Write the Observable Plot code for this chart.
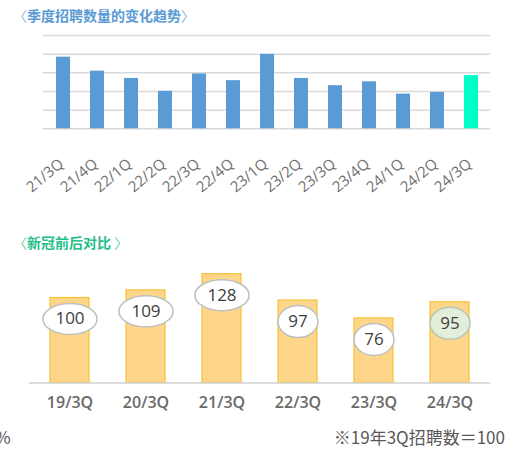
<!DOCTYPE html>
<html>
<head>
<meta charset="utf-8">
<script src="https://cdn.jsdelivr.net/npm/d3@7"></script>
<script src="https://cdn.jsdelivr.net/npm/@observablehq/plot@0.6"></script>
<style>
  body { margin: 0; background: #fff; }
  #root { position: relative; width: 521px; height: 449px; overflow: hidden;
          font-family: "Open Sans", "Noto Sans CJK JP", sans-serif; }
  .title { position: absolute; left: 13px; font-size: 14px; line-height: 20px; font-weight: 700;
           font-family: "Noto Sans CJK SC", sans-serif; white-space: nowrap; }
  .title .br { font-weight: 400; opacity: 0.75; }
  .abs { position: absolute; }
  .note { position: absolute; font-size: 17px; line-height: 20px; color: #595959;
          font-family: "Noto Sans CJK JP", sans-serif; white-space: nowrap; }
</style>
</head>
<body>
<div id="root">
  <div class="title" style="top:5px;color:#5B9BD5"><span class="br">〈</span>季度招聘数量的变化趋势<span class="br">〉</span></div>
  <div id="c1" class="abs" style="left:0;top:30px"></div>
  <div class="title" style="top:232px;color:#27BF88"><span class="br">〈</span>新冠前后对比 <span class="br">〉</span></div>
  <div id="c2" class="abs" style="left:0;top:255px"></div>
  <div class="note" style="left:-5px;top:427px">%</div>
  <div class="note" style="right:16px;top:427px">※19年3Q招聘数＝100</div>
</div>
<script>
// ---- Data: quarterly recruitment trend (index, 19/3Q = 100) ----
const quarters = ["21/3Q","21/4Q","22/1Q","22/2Q","22/3Q","22/4Q","23/1Q","23/2Q","23/3Q","23/4Q","24/1Q","24/2Q","24/3Q"];
const quarterValues = [128, 103, 90, 67, 98, 86, 133, 90, 77, 84, 62, 65, 95];
const gridTicks = [0, 100/3, 200/3, 100, 400/3, 500/3];
const latestQuarter = "24/3Q";

// ---- Data: before/after COVID comparison ----
const periods = ["19/3Q","20/3Q","21/3Q","22/3Q","23/3Q","24/3Q"];
const periodValues = [100, 109, 128, 97, 76, 95];
const highlightPeriod = "24/3Q";

const trend = quarters.map((q, i) => ({q, v: quarterValues[i]}));
const compare = periods.map((p, i) => ({p, v: periodValues[i]}));

// ellipse symbol for the value bubbles
function ellipseSymbol(k) {
  return {
    draw(ctx, size) {
      const ry = Math.sqrt(size / Math.PI), rx = ry * k, c = 0.5522847498;
      ctx.moveTo(rx, 0);
      ctx.bezierCurveTo(rx, c * ry, c * rx, ry, 0, ry);
      ctx.bezierCurveTo(-c * rx, ry, -rx, c * ry, -rx, 0);
      ctx.bezierCurveTo(-rx, -c * ry, -c * rx, -ry, 0, -ry);
      ctx.bezierCurveTo(c * rx, -ry, rx, -c * ry, rx, 0);
      ctx.closePath();
    }
  };
}

const chart1 = Plot.plot({
  width: 521, height: 170,
  marginTop: 5, marginBottom: 71.7, marginLeft: 43, marginRight: 31,
  style: {fontFamily: "'Open Sans', sans-serif", background: "transparent"},
  x: {domain: quarters, paddingInner: 0.59, paddingOuter: 0.31},
  y: {domain: [0, 500/3], axis: null},
  marks: [
    Plot.ruleY(gridTicks, {stroke: "#d9d9d9", strokeWidth: 1.5}),
    Plot.barY(trend.filter(d => d.q !== latestQuarter), {x: "q", y: "v", fill: "#5B9BD5"}),
    Plot.barY(trend.filter(d => d.q === latestQuarter), {x: "q", y: "v", fill: "#00FFC8"}),
    Plot.axisX({tickSize: 0, tickRotate: -40, tickPadding: 33, dx: -2, fontSize: 15, fill: "#6e6e6e", label: null})
  ]
});
document.getElementById("c1").appendChild(chart1);

const bubbleY = d => d.v;
const chart2 = Plot.plot({
  width: 521, height: 170,
  marginTop: 0, marginBottom: 42.5, marginLeft: 29, marginRight: 31,
  style: {fontFamily: "'Open Sans', sans-serif", background: "transparent"},
  x: {domain: periods, paddingInner: 0.49, paddingOuter: 0.24},
  y: {domain: [0, 150], axis: null},
  marks: [
    Plot.barY(compare, {x: "p", y: "v", fill: "#FED68A", stroke: "#F7C13A", strokeWidth: 1.2}),
    Plot.ruleY([0], {stroke: "#d0d0d0", strokeWidth: 1.5}),
    Plot.dot(compare.filter(d => d.v >= 100), {x: "p", y: bubbleY, dy: 21, r: 15.5, symbol: ellipseSymbol(1.75),
      fill: "#fff", stroke: "#bfbfbf", strokeWidth: 1.5}),
    Plot.dot(compare.filter(d => d.v < 100 && d.p !== highlightPeriod), {x: "p", y: bubbleY, dy: 21, r: 16, symbol: ellipseSymbol(1.25),
      fill: "#fff", stroke: "#bfbfbf", strokeWidth: 1.5}),
    Plot.dot(compare.filter(d => d.p === highlightPeriod), {x: "p", y: bubbleY, dy: 21, r: 16, symbol: ellipseSymbol(1.25),
      fill: "#E2EFDA", stroke: "#b9c6b0", strokeWidth: 1.5}),
    Plot.text(compare, {x: "p", y: bubbleY, dy: 21, text: d => String(d.v), fontSize: 17, fill: "#404040"}),
    Plot.axisX({tickSize: 0, tickPadding: 14, fontSize: 16, fontWeight: 600, fill: "#6a6a6a", label: null})
  ]
});
document.getElementById("c2").appendChild(chart2);
</script>
</body>
</html>
